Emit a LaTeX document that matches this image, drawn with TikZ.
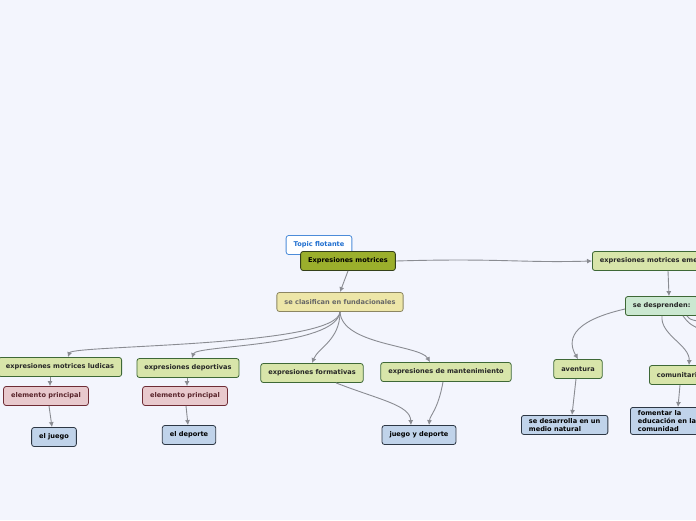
\documentclass[tikz,border=0pt]{standalone}
\usepackage{fontspec}
\setmainfont{DejaVu Sans}
\usetikzlibrary{arrows.meta}
\definecolor{fondo}{HTML}{F3F5FD}
\definecolor{lineagris}{HTML}{8A8C92}
\definecolor{olivo}{HTML}{9BAF2C}
\definecolor{olivoborde}{HTML}{34401A}
\definecolor{amarillo}{HTML}{EDE6A8}
\definecolor{amarilloborde}{HTML}{8C8662}
\definecolor{verde}{HTML}{D8E5AA}
\definecolor{verdeborde}{HTML}{3E6836}
\definecolor{verdeclaro}{HTML}{CBE8D1}
\definecolor{rosa}{HTML}{E8C9CD}
\definecolor{rosaborde}{HTML}{6E2C35}
\definecolor{azul}{HTML}{C0D3EA}
\definecolor{azulborde}{HTML}{2D3744}
\definecolor{azultexto}{HTML}{1F6FD0}
\tikzset{
  caja/.style={rounded corners=2.5pt, line width=0.8pt, inner xsep=7.5pt, inner ysep=0pt,
    minimum height=19pt, font=\fontsize{6.6}{8}\selectfont\bfseries},
  central/.style={caja, fill=olivo, draw=olivoborde, text=black},
  flotante/.style={caja, fill=white, draw=azultexto!80, text=azultexto},
  clase/.style={caja, fill=amarillo, draw=amarilloborde, text=black!60},
  rama/.style={caja, fill=verde, draw=verdeborde, text=black!85},
  ramaclara/.style={caja, fill=verdeclaro, draw=verdeborde, text=black!85},
  elemento/.style={caja, fill=rosa, draw=rosaborde, text=rosaborde!80!black},
  hoja/.style={caja, fill=azul, draw=azulborde, text=black},
  hojalarga/.style={hoja, align=left, inner ysep=3pt},
  enlace/.style={draw=lineagris, line width=0.9pt, -{Latex[length=5pt,width=5pt]}}
}
\begin{document}
\begin{tikzpicture}[x=1pt,y=-1pt]
  \useasboundingbox (0,0) rectangle (696,520);
  \fill[fondo] (0,0) rectangle (696,520);
  \clip (0,0) rectangle (696,520);

  % centro
  \node[flotante] (flot) at (319,245) {Topic flotante};
  \node[central] (exp) at (348,261) {Expresiones motrices};
  \node[clase] (clasif) at (340,302) {se clasifican en fundacionales};

  % fundacionales
  \node[rama] (ludicas) at (60,367) {expresiones motrices ludicas};
  \node[rama] (deport) at (188,368) {expresiones deportivas};
  \node[rama] (format) at (312,373) {expresiones formativas};
  \node[rama] (mant) at (446,372) {expresiones de mantenimiento};
  \node[elemento] (elem1) at (46,396) {elemento principal};
  \node[elemento] (elem2) at (185,396) {elemento principal};
  \node[hoja] (juego) at (54,437) {el juego};
  \node[hoja] (deporte) at (189,435) {el deporte};
  \node[hoja] (jyd) at (419,435) {juego y deporte};

  % emergentes
  \node[rama, anchor=west] (emerg) at (592,261) {expresiones motrices emergentes};
  \node[ramaclara, anchor=west] (desp) at (625,306) {se desprenden:};
  \node[rama] (avent) at (578,369) {aventura};
  \node[rama, anchor=west] (comun) at (649,375) {comunitarias};
  \node[hojalarga, anchor=north west] (natural) at (521,415) {se desarrolla en un\\medio natural};
  \node[hojalarga, anchor=north west] (fomentar) at (630,407) {fomentar la\\educación en la\\comunidad};
  \coordinate (fuera1) at (720,338);
  \coordinate (fuera2) at (725,326);

  % enlaces
  \draw[enlace] (exp.south) -- (clasif.north);
  \draw[enlace] (exp.east) .. controls (500,258) and (520,263) .. (emerg.west);
  \draw[enlace] (clasif.south) .. controls (338,347) and (72,345) .. ([xshift=8pt]ludicas.north);
  \draw[enlace] (clasif.south) .. controls (336,347) and (196,345) .. ([xshift=4pt]deport.north);
  \draw[enlace] (clasif.south) .. controls (340,340) and (318,348) .. (format.north);
  \draw[enlace] (clasif.south) .. controls (342,345) and (420,345) .. ([xshift=-16pt]mant.north);
  \draw[enlace] ([xshift=-10pt]ludicas.south) -- ([xshift=4pt]elem1.north);
  \draw[enlace] ([xshift=-1pt]deport.south) -- ([xshift=2pt]elem2.north);
  \draw[enlace] ([xshift=3pt]elem1.south) -- ([xshift=-2pt]juego.north);
  \draw[enlace] ([xshift=1pt]elem2.south) -- ([xshift=-1pt]deporte.north);
  \draw[enlace] ([xshift=24pt]format.south) .. controls (380,400) and (410,405) .. ([xshift=-8pt]jyd.north);
  \draw[enlace] ([xshift=-3pt]mant.south) .. controls (438,410) and (430,415) .. ([xshift=10pt]jyd.north);
  \draw[enlace] ([xshift=76pt]emerg.south west) -- ([xshift=44pt]desp.south west |- desp.north);
  \draw[enlace] ([yshift=-3pt]desp.west) .. controls (568,322) and (568,342) .. (avent.north);
  \draw[enlace] ([xshift=37pt]desp.south west) .. controls (660,335) and (690,345) .. ([xshift=40pt]comun.north west);
  \draw[enlace] ([xshift=58pt]desp.south west) .. controls (690,325) .. (fuera1);
  \draw[enlace] ([xshift=62pt]desp.south west) .. controls (690,320) .. (fuera2);
  \draw[enlace] ([xshift=-2pt]avent.south) -- ([xshift=51pt]natural.north west);
  \draw[enlace] ([xshift=31pt]comun.south west) -- ([xshift=48pt]fomentar.north west);
\end{tikzpicture}
\end{document}
